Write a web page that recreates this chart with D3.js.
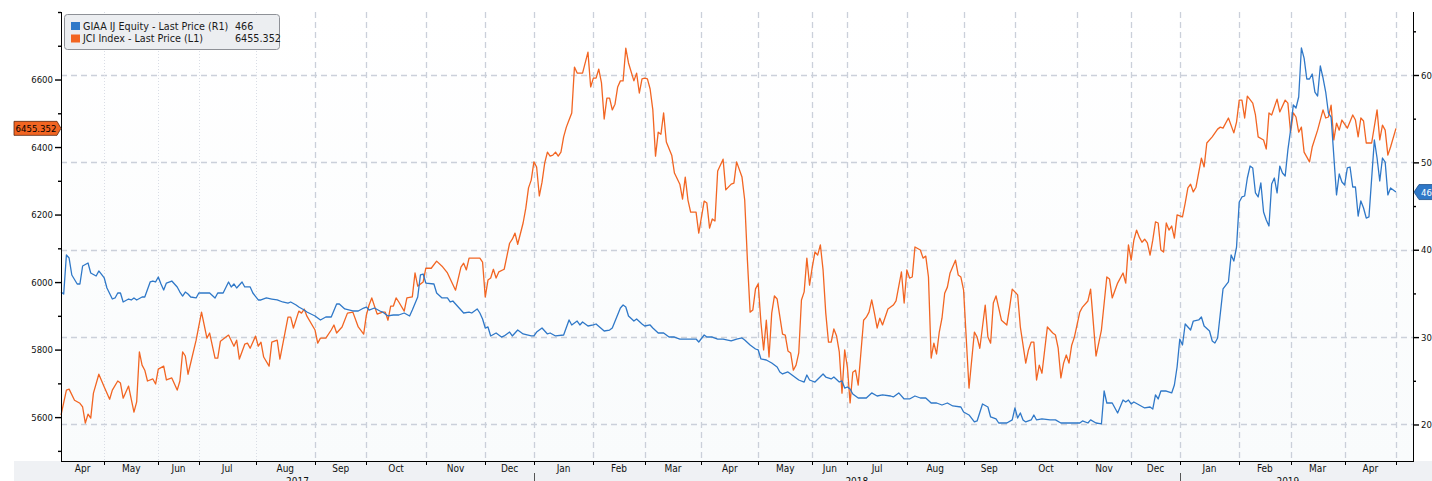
<!DOCTYPE html>
<html><head><meta charset="utf-8">
<script src="https://cdn.jsdelivr.net/npm/d3@7"></script>
<style>
html,body{margin:0;padding:0;background:#fff;overflow:hidden;}
svg{display:block;}
</style></head><body>
<svg id="chart" width="1432" height="481"></svg>
<script>
// ---------------- data ----------------
const monthLabels = ["Apr","May","Jun","Jul","Aug","Sep","Oct","Nov","Dec",
  "Jan","Feb","Mar","Apr","May","Jun","Jul","Aug","Sep","Oct","Nov","Dec",
  "Jan","Feb","Mar","Apr"];
const monthTradingDays = [16,20,15,21,22,19,22,22,18,22,19,21,21,20,13,22,21,19,23,20,18,22,19,20,19];
const yearLabels = ["2017","2018","2019"];
const monthsPerYear = [9,12,4];
const leftTicks = [5600,5800,6000,6200,6400,6600];
const leftMinorTicks = [5500,5700,5900,6100,6300,6500,6700,6800];
const rightTicks = [20,30,40,50,60];
const rightMinorTicks = [25,35,45,55,65];
const seriesNames = ["GIAA IJ Equity - Last Price (R1)","JCI Index - Last Price (L1)"];
const lastValues = ["466","6455.352"];

// [trading day index, price]
const giaa = [[0,35.16],[1,34.93],[2,39.40],[3,39.05],[4,37.11],[6,36.08],[7,36.08],[8,38.14],[10,38.48],[11,37.34],[13,36.99],[14,37.57],[16,36.77],[17,35.62],[19,34.36],[20,34.48],[21,35.05],[22,35.05],[23,34.02],[25,34.36],[26,34.25],[27,34.48],[28,34.25],[30,34.59],[31,34.59],[33,36.31],[34,36.42],[35,36.31],[36,36.88],[37,36.08],[38,35.39],[39,36.19],[41,36.42],[43,35.74],[44,35.16],[45,34.70],[46,35.16],[47,34.93],[48,34.59],[50,34.48],[51,35.05],[55,35.05],[57,34.48],[58,35.05],[60,35.05],[62,36.31],[63,35.74],[64,36.08],[65,35.62],[67,36.31],[68,35.74],[70,35.74],[71,35.05],[73,34.25],[74,34.25],[76,34.48],[78,34.36],[80,34.25],[82,34.02],[84,33.90],[85,34.02],[87,33.67],[88,33.44],[90,33.10],[91,32.87],[94,32.42],[96,31.96],[98,32.30],[100,32.30],[102,33.79],[103,33.79],[105,33.22],[108,32.99],[110,32.99],[112,33.33],[113,33.44],[114,33.10],[116,33.33],[118,32.99],[119,32.87],[121,32.42],[123,32.53],[125,32.53],[127,32.76],[129,32.42],[130,33.10],[132,34.59],[133,37.11],[134,37.22],[135,36.19],[138,36.08],[139,35.05],[141,34.48],[143,34.48],[144,34.02],[145,34.13],[147,33.44],[149,32.76],[151,32.87],[152,32.76],[154,33.22],[155,32.76],[156,32.07],[157,31.04],[158,31.16],[159,30.13],[161,30.47],[163,30.01],[164,30.13],[166,30.58],[167,30.13],[169,30.81],[171,30.36],[174,30.13],[175,30.13],[176,30.58],[178,31.04],[180,30.36],[181,30.47],[183,30.13],[186,30.24],[188,31.96],[189,31.39],[191,31.84],[192,31.39],[193,31.73],[195,31.27],[197,31.39],[198,31.50],[201,30.70],[203,30.81],[204,31.04],[207,33.33],[208,33.67],[209,33.44],[210,32.42],[212,31.84],[213,32.07],[215,31.50],[216,31.27],[218,31.39],[219,31.04],[221,30.47],[223,30.47],[225,30.01],[227,30.01],[229,29.78],[232,29.78],[235,29.78],[236,29.44],[238,30.24],[239,30.01],[241,30.01],[243,29.78],[245,29.78],[248,29.56],[250,29.78],[252,29.90],[253,29.67],[255,29.10],[257,28.64],[258,28.53],[259,27.50],[261,27.38],[263,27.04],[265,26.58],[266,26.01],[267,25.78],[269,26.01],[271,25.55],[273,25.09],[275,24.86],[276,25.66],[277,25.09],[279,24.86],[282,25.78],[283,25.43],[285,25.21],[286,25.43],[288,24.86],[289,24.98],[290,24.17],[291,24.29],[292,24.06],[293,23.49],[295,23.03],[298,23.03],[300,23.61],[302,23.26],[304,23.38],[307,23.26],[308,23.15],[310,23.61],[312,22.92],[314,22.92],[316,23.26],[318,23.03],[320,23.03],[322,22.46],[324,22.46],[326,22.23],[328,22.46],[330,22.12],[333,22.00],[334,21.43],[336,21.09],[338,20.29],[339,20.40],[341,22.35],[343,22.00],[344,20.86],[346,20.63],[347,20.17],[350,20.17],[352,20.52],[353,21.89],[354,20.74],[355,21.32],[356,20.52],[357,20.29],[359,20.52],[360,21.09],[361,20.52],[363,20.63],[366,20.52],[368,20.52],[370,20.17],[373,20.17],[377,20.17],[378,20.40],[380,20.17],[381,20.52],[383,20.17],[385,20.06],[386,23.83],[387,22.46],[389,22.46],[391,21.32],[393,22.80],[394,22.57],[395,22.80],[396,22.35],[397,22.57],[399,22.23],[401,21.89],[403,22.00],[404,21.77],[405,23.38],[406,22.92],[407,23.83],[409,23.83],[411,23.61],[412,24.52],[413,26.58],[414,29.78],[415,29.10],[416,31.50],[418,30.81],[419,31.84],[421,31.96],[422,32.30],[423,31.27],[425,30.70],[426,29.56],[427,29.33],[428,29.90],[430,35.51],[432,36.31],[433,39.40],[434,38.71],[435,40.31],[436,45.46],[437,46.04],[438,46.15],[439,48.21],[440,49.58],[441,49.36],[442,46.50],[443,46.04],[444,47.64],[445,44.32],[446,43.41],[447,42.72],[448,47.52],[449,48.21],[450,46.50],[451,49.58],[452,48.78],[453,48.44],[454,51.42],[455,53.70],[456,56.57],[457,56.22],[458,57.48],[459,63.09],[460,61.94],[461,59.54],[462,59.54],[463,60.11],[464,58.05],[465,57.59],[466,61.03],[467,59.66],[468,58.05],[469,55.65],[470,55.19],[472,46.27],[473,48.67],[474,47.75],[475,47.41],[476,49.36],[477,49.47],[478,47.18],[479,47.18],[480,43.86],[481,45.58],[482,44.78],[483,43.63],[484,43.75],[486,52.56],[487,50.50],[488,47.87],[489,50.50],[490,50.04],[491,46.27],[492,47.07],[494,46.6]];

const jci = [[0,5606],[2,5680],[3,5683],[5,5650],[7,5641],[8,5630],[9,5582],[10,5609],[11,5597],[12,5671],[14,5727],[16,5689],[18,5653],[19,5680],[21,5707],[22,5701],[23,5656],[25,5692],[27,5615],[28,5645],[29,5793],[30,5754],[31,5739],[32,5707],[34,5713],[35,5698],[36,5742],[38,5751],[39,5710],[41,5716],[43,5680],[44,5707],[45,5793],[46,5781],[47,5727],[50,5828],[52,5911],[54,5834],[55,5849],[57,5775],[58,5775],[59,5825],[62,5843],[64,5810],[65,5828],[66,5772],[68,5816],[69,5819],[70,5804],[72,5840],[73,5810],[74,5822],[75,5778],[77,5751],[78,5822],[80,5828],[81,5772],[84,5896],[85,5896],[86,5864],[88,5914],[89,5908],[90,5920],[91,5899],[94,5858],[95,5819],[96,5834],[98,5834],[100,5858],[101,5873],[102,5849],[104,5867],[106,5908],[108,5911],[110,5867],[112,5846],[113,5902],[114,5932],[115,5953],[117,5905],[119,5911],[120,5911],[121,5887],[122,5929],[123,5929],[124,5953],[125,5941],[127,5914],[128,5953],[130,5956],[131,6027],[132,5988],[134,6000],[135,6041],[137,6041],[139,6062],[141,6047],[143,6027],[146,5976],[148,6044],[149,6056],[150,6036],[151,6071],[155,6071],[156,6059],[157,5956],[158,6006],[159,6012],[160,6038],[161,6012],[162,6030],[164,6038],[166,6115],[167,6127],[168,6145],[169,6112],[171,6175],[172,6219],[173,6279],[174,6302],[175,6356],[176,6341],[177,6255],[178,6296],[179,6353],[180,6385],[181,6373],[182,6376],[183,6385],[184,6373],[185,6385],[186,6430],[187,6459],[188,6480],[189,6501],[190,6637],[191,6619],[193,6619],[195,6681],[196,6578],[197,6604],[198,6604],[199,6631],[200,6590],[201,6483],[202,6545],[203,6545],[204,6510],[205,6527],[206,6578],[207,6596],[208,6596],[209,6693],[210,6649],[212,6596],[213,6619],[214,6560],[215,6602],[216,6604],[217,6602],[218,6572],[219,6510],[220,6373],[221,6444],[222,6438],[223,6501],[224,6415],[226,6376],[227,6323],[229,6290],[230,6246],[231,6311],[232,6243],[233,6207],[235,6207],[236,6145],[238,6240],[239,6234],[240,6160],[241,6187],[242,6181],[243,6329],[245,6364],[246,6273],[248,6290],[249,6293],[250,6356],[252,6311],[253,6243],[254,6065],[255,5911],[256,5917],[257,5980],[258,5995],[259,5881],[260,5799],[261,5887],[262,5778],[263,5908],[264,5959],[265,5950],[267,5846],[268,5843],[269,5796],[270,5790],[271,5739],[272,5754],[273,5790],[274,5947],[275,5971],[276,6071],[277,5991],[278,6044],[279,6089],[280,6080],[281,6110],[282,6036],[283,5908],[284,5822],[285,5822],[286,5861],[287,5840],[288,5793],[289,5671],[290,5799],[291,5748],[292,5642],[293,5733],[294,5739],[295,5695],[297,5887],[298,5896],[299,5911],[300,5947],[301,5908],[302,5864],[303,5893],[304,5873],[306,5920],[308,5932],[309,5944],[311,6030],[312,5938],[313,6036],[314,6012],[315,6015],[316,6104],[318,6095],[319,6071],[320,6077],[321,6015],[322,5775],[323,5819],[324,5787],[325,5852],[326,5893],[327,5967],[328,5985],[329,6027],[331,6065],[332,6021],[333,6015],[334,5976],[336,5686],[337,5769],[338,5852],[339,5837],[340,5804],[342,5932],[343,5837],[344,5819],[345,5938],[346,5959],[348,5887],[350,5873],[351,5923],[352,5979],[354,5962],[355,5867],[357,5760],[358,5799],[359,5822],[360,5822],[361,5710],[362,5754],[363,5730],[365,5867],[367,5849],[368,5843],[369,5804],[370,5716],[371,5760],[372,5784],[373,5760],[374,5813],[375,5837],[377,5911],[378,5926],[380,5944],[381,5979],[383,5781],[385,5858],[387,6015],[388,6009],[389,5953],[391,5997],[393,6027],[394,5997],[395,6110],[396,6065],[397,6124],[398,6154],[399,6133],[400,6118],[401,6127],[402,6116],[403,6080],[404,6124],[405,6178],[406,6175],[407,6095],[408,6089],[409,6175],[410,6154],[411,6166],[412,6130],[413,6199],[415,6193],[416,6234],[417,6279],[418,6290],[419,6267],[420,6281],[422,6367],[423,6341],[424,6412],[426,6430],[428,6453],[429,6459],[430,6456],[432,6486],[434,6442],[435,6474],[436,6539],[437,6539],[438,6486],[439,6551],[441,6530],[442,6495],[443,6430],[445,6421],[446,6394],[447,6501],[448,6495],[450,6542],[451,6504],[453,6539],[454,6530],[455,6444],[456,6501],[457,6489],[458,6444],[459,6459],[460,6385],[462,6356],[463,6400],[465,6450],[467,6510],[468,6486],[469,6489],[470,6524],[471,6421],[472,6471],[473,6450],[474,6480],[476,6456],[478,6495],[479,6480],[480,6430],[481,6486],[482,6477],[483,6412],[485,6412],[487,6510],[488,6421],[489,6465],[490,6450],[491,6376],[492,6400],[494,6455.352]];

// ---------------- layout ----------------
const W = 1432, H = 481;
const L = 61, R = 1413, T = 12, B = 461;
const BLUE = "#2f78c8", ORANGE = "#f26522";
const GRID = "#cbd0da";

const svg = d3.select("#chart");
const defs = svg.append("defs");
const grad = defs.append("linearGradient").attr("id","bg").attr("x1",0).attr("y1",0).attr("x2",0).attr("y2",1);
grad.append("stop").attr("offset","0%").attr("stop-color","#ffffff");
grad.append("stop").attr("offset","100%").attr("stop-color","#f9fbfc");

// scales
const x = d3.scaleLinear().domain([0, 500.3]).range([L, R]);
const yL = d3.scaleLinear().domain([5470, 6800]).range([B, T]);
const yR = d3.scaleLinear().domain([15.82, 67.21]).range([B, T]);

// backgrounds
svg.append("rect").attr("x",0).attr("y",0).attr("width",W).attr("height",H).attr("fill","#fff");
svg.append("rect").attr("x",L).attr("y",T).attr("width",R-L).attr("height",B-T).attr("fill","url(#bg)");
svg.append("rect").attr("x",14).attr("y",B).attr("width",W-14).attr("height",H-B).attr("fill","#eff1f4");

// month boundaries
const monthStarts = [];
let acc = 0;
monthTradingDays.forEach(n => { monthStarts.push(acc); acc += n; });
const monthEnds = monthStarts.map((s,i) => s + monthTradingDays[i]);

// grid
const grid = svg.append("g");
grid.selectAll("line.hg").data(rightTicks).join("line")
  .attr("x1",L).attr("x2",R)
  .attr("y1",d=>Math.round(yR(d))+0.5).attr("y2",d=>Math.round(yR(d))+0.5)
  .attr("stroke",GRID).attr("stroke-width",1.3).attr("stroke-dasharray","6,4");
grid.selectAll("line.vg").data(monthEnds).join("line")
  .attr("x1",d=>Math.round(x(d))+0.5).attr("x2",d=>Math.round(x(d))+0.5)
  .attr("y1",T).attr("y2",B)
  .attr("stroke",(d,i)=> i<4 ? "#d9dde5" : GRID)
  .attr("stroke-width",(d,i)=> i<4 ? 1 : 1.3)
  .attr("stroke-dasharray",(d,i)=> i<4 ? "1,2" : "6,4");

// lines
const lineL = d3.line().x(d=>x(d[0])).y(d=>yL(d[1]));
const lineR = d3.line().x(d=>x(d[0])).y(d=>yR(d[1]));
svg.append("path").datum(jci).attr("d",lineL).attr("fill","none")
  .attr("stroke",ORANGE).attr("stroke-width",1.3).attr("stroke-linejoin","round");
svg.append("path").datum(giaa).attr("d",lineR).attr("fill","none")
  .attr("stroke",BLUE).attr("stroke-width",1.3).attr("stroke-linejoin","round");

// axes
const axisFont = "'DejaVu Sans Condensed','DejaVu Sans',sans-serif";
function styleAxis(g){
  g.select(".domain").remove();
  g.selectAll("line").attr("stroke","#000");
  g.selectAll("text").attr("fill","#111").style("font-family",axisFont).style("font-size","9.5px");
}
const gL = svg.append("g").attr("transform",`translate(${L},0)`);
gL.append("g").call(d3.axisLeft(yL).tickValues(leftTicks).tickSize(6).tickPadding(2).tickFormat(d3.format("d"))).call(styleAxis);
gL.append("g").call(d3.axisLeft(yL).tickValues(leftMinorTicks).tickSize(3).tickFormat("")).call(styleAxis);
gL.selectAll(".tick line").attr("stroke-width",1.4);

const gR = svg.append("g").attr("transform",`translate(${R},0)`);
gR.append("g").call(d3.axisRight(yR).tickValues(rightTicks).tickSize(6).tickPadding(2).tickFormat(d3.format("d"))).call(styleAxis);
gR.append("g").call(d3.axisRight(yR).tickValues(rightMinorTicks).tickSize(3).tickFormat("")).call(styleAxis);
gR.selectAll(".tick line").attr("stroke-width",1.4);

// axis lines
svg.append("line").attr("x1",L+0.5).attr("x2",L+0.5).attr("y1",T).attr("y2",B).attr("stroke","#000");
svg.append("line").attr("x1",R+0.5).attr("x2",R+0.5).attr("y1",T).attr("y2",B).attr("stroke","#000");
svg.append("line").attr("x1",L).attr("x2",R+1).attr("y1",B+0.5).attr("y2",B+0.5).attr("stroke","#000");

// bottom month axis
const gB = svg.append("g");
gB.selectAll("line.mt").data(monthEnds).join("line")
  .attr("x1",d=>Math.round(x(d))+0.5).attr("x2",d=>Math.round(x(d))+0.5)
  .attr("y1",B).attr("y2",B+4).attr("stroke","#000");
const monthFont = "'Liberation Sans Narrow','DejaVu Sans Condensed',sans-serif";
gB.selectAll("text.ml").data(monthLabels).join("text")
  .attr("x",(d,i)=>x((monthStarts[i]+monthEnds[i])/2))
  .attr("y",B+11)
  .attr("text-anchor","middle")
  .style("font-family",monthFont).style("font-size","10px").attr("fill","#111")
  .text(d=>d);
// years
const yearStartIdx = [];
let mi = 0;
monthsPerYear.forEach(n => { yearStartIdx.push(mi); mi += n; });
gB.selectAll("text.yl").data(yearLabels).join("text")
  .attr("x",(d,i)=>{
    const s = monthStarts[yearStartIdx[i]];
    const e = monthEnds[yearStartIdx[i]+monthsPerYear[i]-1];
    return x((s+e)/2);
  })
  .attr("y",B+24)
  .attr("text-anchor","middle")
  .style("font-family",monthFont).style("font-size","10px").attr("fill","#111")
  .text(d=>d);
gB.selectAll("line.ys").data(yearStartIdx.slice(1)).join("line")
  .attr("x1",d=>Math.round(x(monthStarts[d]))+0.5).attr("x2",d=>Math.round(x(monthStarts[d]))+0.5)
  .attr("y1",B+12).attr("y2",H).attr("stroke","#555");

// last value tags
const tagFont = axisFont;
const lastJ = jci[jci.length-1][1];
const yJ = yL(lastJ);
svg.append("path")
  .attr("d",`M14,${yJ-7}H57L61,${yJ}L57,${yJ+7}H14Z`)
  .attr("fill",ORANGE).attr("stroke","#5a2a10").attr("stroke-width",0.8);
svg.append("text").attr("x",36).attr("y",yJ+3.5).attr("text-anchor","middle")
  .style("font-family",tagFont).style("font-size","9.5px").attr("fill","#000").text(lastValues[1]);
const lastG = giaa[giaa.length-1][1];
const yG = yR(lastG);
svg.append("path")
  .attr("d",`M${R+1},${yG}L${R+6},${yG-7.5}H${W+5}V${yG+7.5}H${R+6}Z`)
  .attr("fill",BLUE).attr("stroke","#1d4f8a").attr("stroke-width",0.8);
svg.append("text").attr("x",R+8).attr("y",yG+3.5)
  .style("font-family",tagFont).style("font-size","9.5px").attr("fill","#fff").text(lastValues[0]);

// legend
const lg = svg.append("g").attr("transform","translate(64,14)");
lg.append("rect").attr("x",0.5).attr("y",0.5).attr("width",215).attr("height",35).attr("rx",3)
  .attr("fill","#eceef1").attr("stroke","#8e9197");
const legFont = "'DejaVu Sans Condensed','DejaVu Sans',sans-serif";
const legColors = [BLUE, ORANGE];
seriesNames.forEach((name,i) => {
  const yy = 8 + i*12.5;
  lg.append("rect").attr("x",7).attr("y",yy).attr("width",9).attr("height",8).attr("fill",legColors[i]);
  lg.append("text").attr("x",19).attr("y",yy+7.5)
    .style("font-family",legFont).style("font-size","10.7px").attr("fill","#1a1a1a").text(name);
  lg.append("text").attr("x",171).attr("y",yy+7.5)
    .style("font-family",legFont).style("font-size","10.7px").attr("fill","#1a1a1a").text(lastValues[i]);
});
</script>
</body></html>
